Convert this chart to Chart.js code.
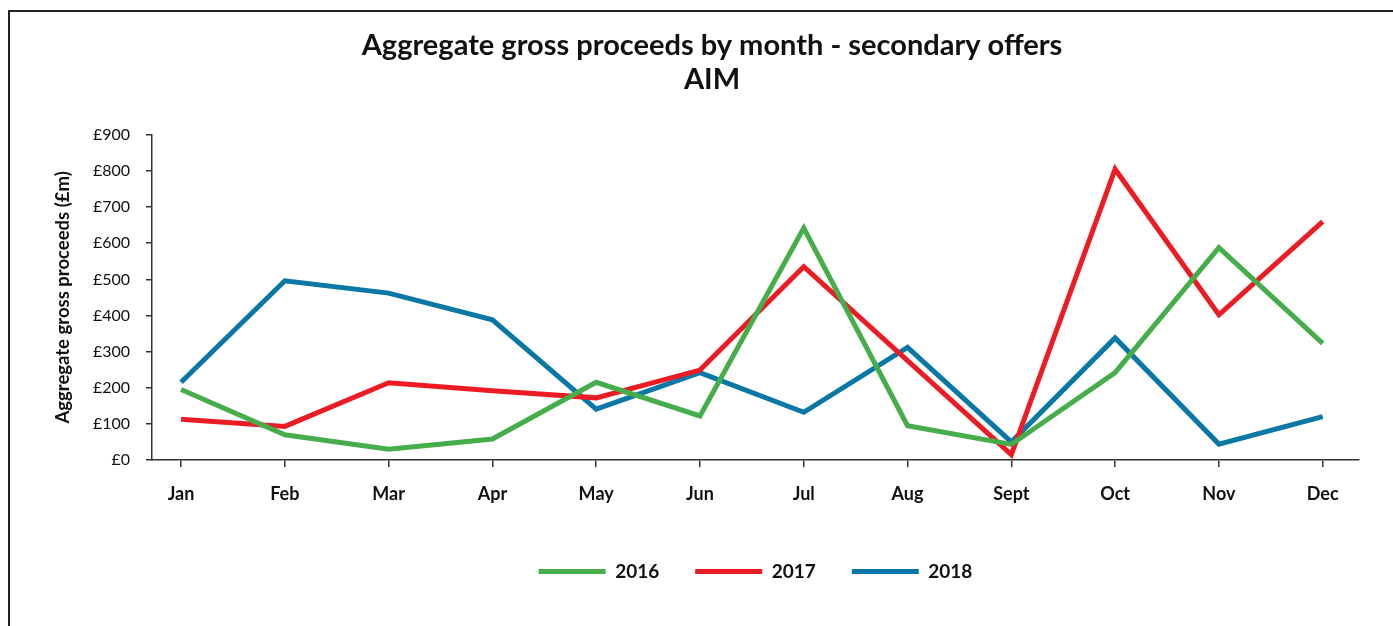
<!DOCTYPE html>
<html>
<head>
<meta charset="utf-8">
<script src="https://cdn.jsdelivr.net/npm/chart.js@4"></script>
<style>
  html, body { margin: 0; padding: 0; background: #fff; overflow: hidden; }
  #frame {
    position: absolute; left: 8px; top: 10px;
    width: 1408px; height: 654px;
    border: 2px solid #222; box-sizing: border-box;
  }
</style>
</head>
<body>
<div id="frame"><canvas id="myChart"></canvas></div>
<script>
// mois et valeurs (en £m)
const months = ['Jan', 'Feb', 'Mar', 'Apr', 'May', 'Jun', 'Jul', 'Aug', 'Sept', 'Oct', 'Nov', 'Dec'];
const years = ['2016', '2017', '2018'];
const values2016 = [195, 70, 30, 58, 215, 122, 642, 95, 43, 242, 588, 323];
const values2017 = [113, 93, 214, 192, 172, 249, 535, 275, 15, 805, 402, 660];
const values2018 = [215, 496, 462, 388, 141, 242, 132, 312, 50, 338, 44, 120];
const colors = ['#45ad4a', '#ed1c24', '#0a78a6'];

const series = [values2016, values2017, values2018];

const ctx = document.getElementById('myChart');

var chart = new Chart(ctx, {
  type: 'line',
  data: {
    datasets: series.map((vals, i) => ({
      label: years[i],
      data: vals.map((v, m) => ({ x: m, y: v })),
      borderColor: colors[i],
      backgroundColor: colors[i],
      borderWidth: 5,
      pointRadius: 0,
      tension: 0,
      fill: false
    }))
  },
  options: {
    responsive: true,
    maintainAspectRatio: false,
    animation: false,
    layout: {
      padding: { left: 0, right: 0, top: 0, bottom: 71 }
    },
    plugins: {
      title: {
        display: true,
        text: ['Aggregate gross proceeds by month - secondary offers', 'AIM'],
        color: '#111',
        font: { family: 'Lato', size: 29, weight: 'bold', lineHeight: 1.17 },
        padding: { top: 17, bottom: 38 }
      },
      legend: {
        position: 'bottom',
        fullSize: false,
        labels: {
          boxWidth: 67,
          boxHeight: 5,
          padding: 36,
          color: '#111',
          font: { family: 'Lato', size: 19, weight: 'bold' },
          generateLabels: (c) => {
            const items = Chart.defaults.plugins.legend.labels.generateLabels(c);
            items.forEach(it => { it.lineWidth = 0; });
            return items;
          }
        }
      },
      tooltip: { enabled: false }
    },
    scales: {
      x: {
        type: 'linear',
        min: -0.28,
        max: 11.35,
        afterFit: (scale) => { scale.height = 66; },
        border: { color: '#333', width: 1.5 },
        grid: { drawOnChartArea: false, drawTicks: true, tickLength: 7, color: '#333', lineWidth: 1.5 },
        ticks: {
          stepSize: 1,
          includeBounds: false,
          padding: 16,
          color: '#111',
          maxRotation: 0,
          autoSkip: false,
          font: { family: 'Lato', size: 18, weight: 'bold' },
          callback: (v) => months[v]
        }
      },
      y: {
        min: 0,
        max: 900,
        afterFit: (scale) => { scale.width = 142; },
        border: { color: '#333', width: 1.5 },
        grid: { drawOnChartArea: false, drawTicks: true, tickLength: 6, color: '#333', lineWidth: 1.5 },
        ticks: {
          stepSize: 100,
          padding: 16,
          color: '#111',
          font: { family: 'Lato', size: 16 },
          callback: (v) => '£' + v
        },
        title: {
          display: true,
          text: 'Aggregate gross proceeds (£m)',
          color: '#111',
          font: { family: 'Lato', size: 18.5, weight: 'bold' },
          padding: { top: 42, bottom: 0 }
        }
      },
      // axe vide à droite, juste pour laisser la marge
      yRight: {
        position: 'right',
        min: 0,
        max: 900,
        afterFit: (scale) => { scale.width = 55; },
        border: { display: false },
        grid: { display: false },
        ticks: { display: false }
      }
    }
  }
});
</script>
</body>
</html>
